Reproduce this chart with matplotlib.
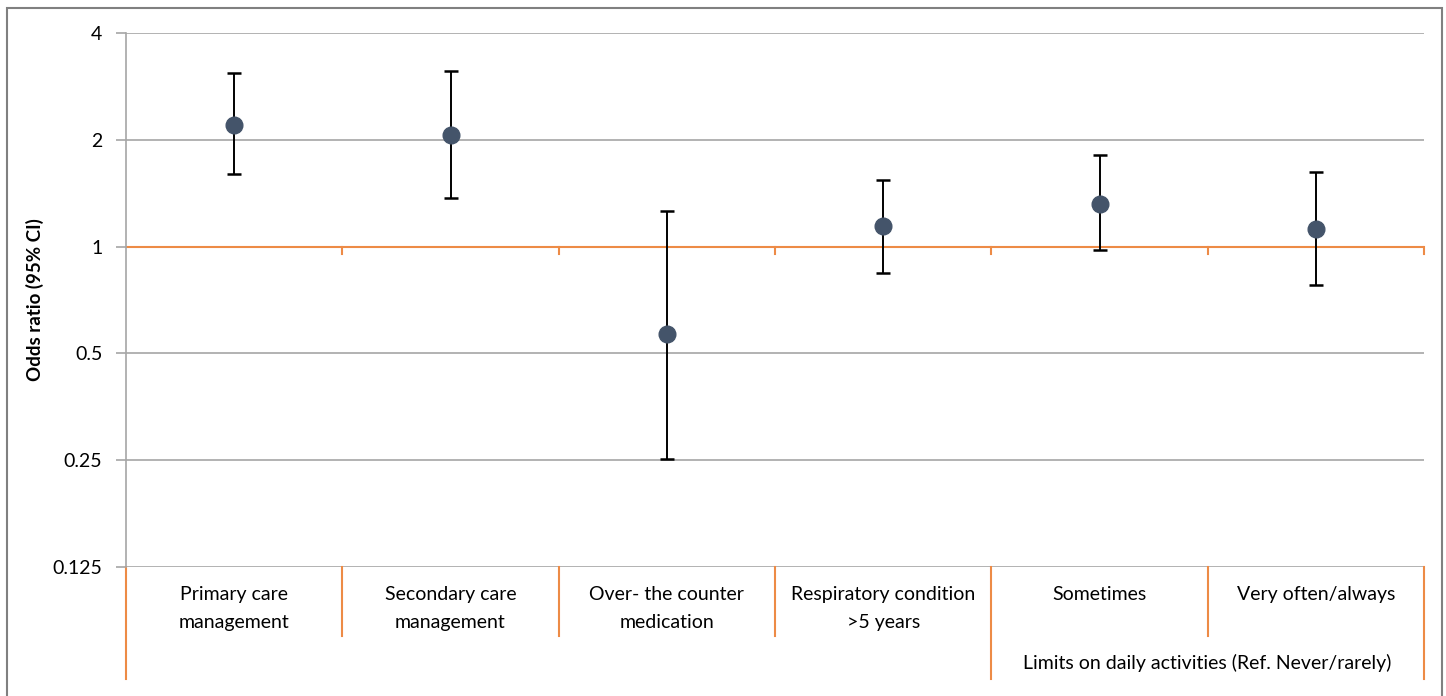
import numpy as np
import matplotlib.pyplot as plt

plt.rcParams['font.family'] = ['Lato', 'DejaVu Sans']

categories = ['Primary care\nmanagement', 'Secondary care\nmanagement',
              'Over- the counter\nmedication', 'Respiratory condition\n>5 years',
              'Sometimes', 'Very often/always']
group_label = 'Limits on daily activities (Ref. Never/rarely)'
odds = [2.20, 2.06, 0.568, 1.14, 1.32, 1.12]
ci_low = [1.60, 1.37, 0.252, 0.84, 0.98, 0.78]
ci_high = [3.08, 3.12, 1.26, 1.54, 1.81, 1.62]
yticks = [0.125, 0.25, 0.5, 1, 2, 4]
ytick_labels = ['0.125', '0.25', '0.5', '1', '2', '4']

W, H = 1446, 696
fig = plt.figure(figsize=(W / 100, H / 100), dpi=100)
left, right, top, bottom = 126, 1424, 33, 567
ax = fig.add_axes([left / W, 1 - bottom / H, (right - left) / W, (bottom - top) / H])

GRID = '#a6a6a6'
ORANGE = '#ed8b46'

x = np.arange(len(categories)) + 0.5
odds = np.array(odds)
err = [odds - np.array(ci_low), np.array(ci_high) - odds]

ax.set_yscale('log', base=2)
ax.set_ylim(0.125, 4)
ax.set_xlim(0, len(categories))
for v in yticks:
    if v != 1:
        ax.axhline(v, color=GRID, lw=1.2, zorder=1)
ax.axhline(1, color=ORANGE, lw=1.5, zorder=1)

ax.errorbar(x, odds, yerr=err, fmt='o', color='#44546a', ms=12,
            ecolor='black', elinewidth=1.4, capsize=5, capthick=1.8, zorder=3)

ax.set_yticks(yticks)
ax.set_yticklabels(ytick_labels, fontsize=14)
ax.yaxis.set_minor_locator(plt.NullLocator())
ax.tick_params(axis='y', length=7, color=GRID, width=1.2, pad=10)
ax.set_xticks([])
ax.set_ylabel('Odds ratio (95% CI)', fontsize=13.5, fontweight='bold')
ax.yaxis.set_label_coords((44 - left) / (right - left), 0.5)
for s in ['top', 'right', 'bottom']:
    ax.spines[s].set_visible(False)
ax.spines['left'].set_color(GRID)
ax.spines['left'].set_linewidth(1.2)

# small ticks on the reference line
ph = bottom - top
tick_len = 7 / ph
for b in range(1, len(categories) + 1):
    ax.plot([b, b], [1, 2 ** (-tick_len * 5)], color=ORANGE, lw=1.5,
            clip_on=False, zorder=1)

# category axis below plot
tr = ax.get_xaxis_transform()
short = -(636 - bottom) / ph
long_ = -(679 - bottom) / ph
for b in range(len(categories) + 1):
    y_end = long_ if b in (0, 4, 6) else short
    ax.plot([b, b], [0, y_end], color=ORANGE, lw=1.5, transform=tr, clip_on=False)
for xi, lab in zip(x, categories):
    ax.text(xi, -(586 - bottom) / ph, lab, transform=tr, ha='center', va='top',
            fontsize=14, linespacing=1.8)
ax.text(5, -(663 - bottom) / ph, group_label, transform=tr, ha='center',
        va='center', fontsize=14)

# outer frame
fig.patches.append(plt.Rectangle((7 / W, -0.05), (1442 - 7) / W, 1.05 - 8 / H,
                                 transform=fig.transFigure, fill=False,
                                 edgecolor='#808080', lw=1.5))

fig.savefig('out.png', dpi=100)
